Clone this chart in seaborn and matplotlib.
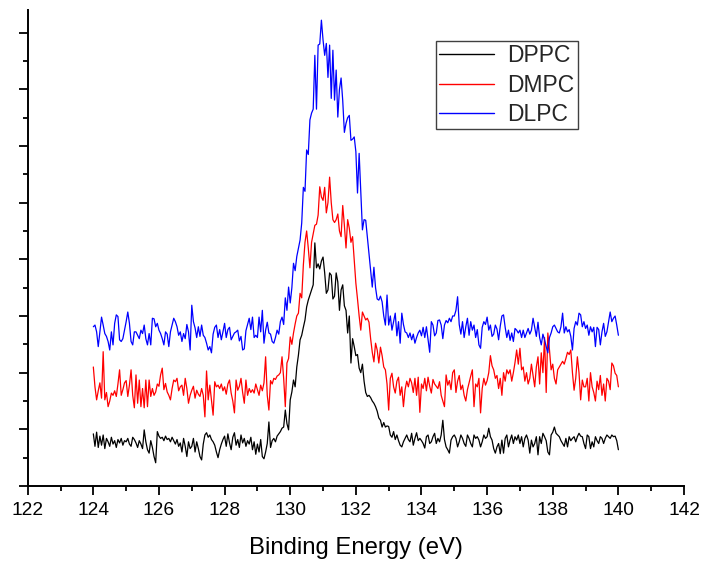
"""XPS spectrum of three phosphatidylcholine films, stacked with a vertical offset."""

import matplotlib

matplotlib.use("Agg")
import matplotlib.pyplot as plt
import numpy as np
import pandas as pd
import seaborn as sns
from matplotlib.ticker import MultipleLocator

# Binding energy grid of the scans (eV), 0.05 eV steps from 124 to 140.
energy = np.round(np.arange(124.0, 140.0001, 0.05), 2)

# Intensities (arbitrary units, offset per sample), one row per eV.
dppc = [
    92, 70, 95, 68, 88, 72, 90, 66, 84, 78, 70, 86, 74, 80, 68, 82, 76, 84, 72, 80,
    78, 84, 74, 70, 86, 82, 76, 68, 80, 74, 66, 99, 78, 64, 58, 80, 68, 52, 41, 96,
    88, 84, 86, 80, 88, 82, 84, 78, 86, 80, 74, 82, 70, 76, 60, 84, 70, 52, 78, 66,
    70, 84, 60, 78, 66, 52, 46, 74, 90, 94, 86, 90, 82, 78, 72, 60, 50, 64, 74, 82,
    88, 70, 92, 76, 64, 86, 94, 72, 82, 68, 90, 76, 84, 70, 80, 74, 86, 64, 78, 56,
    74, 60, 82, 52, 48, 60, 75, 113, 68, 80, 84, 78, 88, 92, 96, 102, 104, 134, 110, 99,
    152, 166, 187, 175, 210, 231, 258, 266, 280, 293, 316, 328, 337, 346, 355, 429, 385, 392, 383, 397,
    404, 376, 340, 346, 376, 372, 330, 335, 376, 360, 310, 346, 355, 318, 310, 270, 300, 217, 260, 246,
    230, 232, 208, 200, 215, 185, 165, 158, 160, 156, 150, 146, 140, 132, 120, 116, 104, 112, 104, 106,
    105, 90, 86, 96, 82, 90, 80, 72, 69, 78, 84, 90, 82, 78, 93, 72, 84, 94, 80, 84,
    80, 75, 67, 87, 90, 75, 78, 87, 93, 75, 84, 78, 90, 116, 82, 69, 64, 58, 81, 87,
    90, 84, 69, 78, 90, 84, 75, 70, 90, 84, 75, 69, 90, 84, 87, 81, 69, 78, 90, 84,
    87, 102, 87, 81, 66, 58, 69, 75, 57, 81, 58, 84, 90, 69, 81, 90, 75, 87, 81, 90,
    75, 87, 69, 84, 90, 81, 58, 81, 69, 75, 87, 55, 87, 75, 93, 87, 80, 60, 55, 90,
    95, 104, 93, 90, 87, 80, 75, 70, 84, 69, 87, 80, 84, 87, 78, 87, 93, 88, 87, 75,
    66, 90, 87, 66, 78, 69, 87, 80, 75, 87, 84, 75, 84, 90, 87, 84, 90, 87, 88, 80, 64,
]
dmpc = [
    210, 175, 152, 168, 182, 155, 237, 152, 165, 140, 150, 164, 160, 168, 158, 180, 205, 160, 170, 182,
    186, 158, 178, 205, 160, 138, 196, 146, 187, 140, 172, 138, 187, 140, 187, 158, 172, 160, 166, 180,
    176, 196, 208, 170, 181, 166, 160, 152, 172, 187, 184, 190, 168, 175, 178, 160, 190, 172, 146, 160,
    169, 176, 155, 169, 162, 158, 172, 160, 122, 203, 152, 178, 152, 125, 184, 175, 178, 172, 180, 168,
    175, 162, 180, 187, 164, 150, 129, 187, 169, 176, 190, 165, 146, 187, 160, 172, 165, 170, 164, 180,
    170, 160, 178, 168, 182, 228, 160, 134, 186, 180, 190, 188, 194, 196, 200, 228, 190, 140, 217, 225,
    263, 250, 270, 286, 300, 305, 340, 332, 390, 430, 450, 420, 385, 430, 445, 460, 462, 478, 528, 510,
    504, 527, 482, 500, 545, 500, 470, 465, 470, 480, 450, 440, 495, 460, 420, 470, 455, 430, 440, 400,
    358, 330, 300, 275, 307, 300, 293, 296, 289, 260, 236, 219, 252, 240, 217, 245, 230, 210, 205, 180,
    134, 190, 199, 175, 164, 185, 192, 160, 175, 140, 170, 185, 175, 190, 182, 165, 190, 160, 192, 130,
    180, 172, 190, 168, 192, 176, 164, 188, 180, 176, 172, 184, 160, 150, 140, 196, 178, 186, 170, 200,
    205, 165, 185, 195, 170, 178, 160, 150, 170, 182, 194, 205, 140, 180, 175, 190, 129, 172, 190, 178,
    186, 200, 230, 212, 205, 190, 195, 172, 190, 160, 200, 185, 205, 198, 205, 185, 200, 218, 240, 215,
    243, 205, 210, 185, 200, 180, 190, 215, 195, 175, 210, 228, 180, 235, 200, 262, 165, 270, 240, 205,
    215, 190, 180, 205, 210, 215, 220, 215, 225, 236, 232, 240, 200, 169, 190, 228, 200, 152, 187, 175,
    175, 190, 150, 200, 175, 165, 150, 185, 170, 195, 160, 180, 150, 190, 185, 170, 217, 212, 199, 195, 175,
]
dlpc = [
    281, 284, 272, 246, 272, 298, 284, 269, 264, 255, 240, 272, 249, 287, 302, 299, 258, 255, 260, 275,
    290, 307, 287, 255, 249, 272, 272, 266, 260, 275, 269, 284, 260, 249, 269, 249, 296, 295, 281, 287,
    275, 269, 260, 249, 272, 268, 246, 272, 284, 296, 290, 281, 266, 272, 255, 269, 260, 285, 272, 240,
    319, 290, 279, 262, 281, 264, 284, 266, 262, 252, 240, 246, 235, 268, 280, 284, 262, 276, 258, 272,
    287, 262, 276, 280, 258, 264, 270, 272, 275, 256, 264, 240, 242, 274, 285, 296, 276, 298, 262, 266,
    262, 298, 272, 310, 252, 275, 289, 270, 268, 255, 252, 262, 275, 268, 290, 298, 285, 332, 310, 351,
    323, 350, 393, 380, 405, 420, 434, 464, 527, 520, 593, 585, 646, 658, 665, 760, 665, 778, 780, 822,
    787, 760, 781, 721, 778, 684, 769, 681, 734, 651, 700, 720, 680, 624, 640, 650, 654, 610, 612, 616,
    590, 517, 587, 520, 452, 470, 469, 440, 410, 380, 351, 386, 350, 330, 328, 335, 325, 300, 284, 337,
    284, 300, 275, 290, 305, 265, 290, 252, 305, 285, 272, 270, 262, 270, 258, 268, 252, 262, 270, 275,
    265, 280, 262, 281, 258, 236, 290, 284, 265, 270, 292, 293, 284, 260, 284, 292, 288, 296, 290, 300,
    300, 310, 334, 285, 268, 290, 262, 281, 296, 266, 290, 275, 284, 262, 276, 249, 243, 280, 290, 285,
    298, 275, 284, 264, 268, 284, 277, 258, 282, 300, 302, 280, 262, 275, 257, 270, 255, 278, 275, 270,
    275, 262, 275, 262, 270, 278, 268, 275, 296, 280, 264, 289, 262, 249, 268, 258, 246, 235, 262, 270,
    281, 284, 278, 272, 270, 281, 305, 270, 281, 272, 276, 264, 240, 278, 290, 284, 305, 302, 281, 290,
    278, 284, 266, 281, 272, 280, 246, 280, 276, 249, 272, 287, 264, 272, 290, 307, 290, 296, 300, 284, 266,
]

samples = ["DPPC", "DMPC", "DLPC"]
colors = {"DPPC": "#000000", "DMPC": "#ff0000", "DLPC": "#0000ff"}

df = pd.concat(
    [
        pd.DataFrame({"energy": energy, "intensity": vals, "sample": name})
        for name, vals in zip(samples, [dppc, dmpc, dlpc])
    ],
    ignore_index=True,
)

sns.set_theme(style="ticks")
plt.rcParams["font.family"] = ["Liberation Sans", "DejaVu Sans"]

fig = plt.figure(figsize=(7.03, 5.61), dpi=100)
ax = fig.add_axes([0.0394, 0.1337, 0.9336, 0.8485])

sns.lineplot(
    data=df, x="energy", y="intensity", hue="sample", hue_order=samples,
    palette=colors, estimator=None, sort=False, lw=0.9, ax=ax,
)

ax.set_xlim(122, 142)
ax.set_ylim(0, 840)
ax.xaxis.set_major_locator(MultipleLocator(2))
ax.xaxis.set_minor_locator(MultipleLocator(1))
ax.yaxis.set_major_locator(MultipleLocator(100))
ax.yaxis.set_minor_locator(MultipleLocator(50))
ax.set_yticklabels([])

for side in ("top", "right"):
    ax.spines[side].set_visible(False)
for side in ("left", "bottom"):
    ax.spines[side].set_linewidth(1.4)
    ax.spines[side].set_color("black")

ax.tick_params(which="major", direction="out", length=6.5, width=1.3, color="black")
ax.tick_params(which="minor", direction="out", length=3.3, width=1.3, color="black")
ax.tick_params(axis="x", which="major", labelsize=13.8, pad=5, labelcolor="black")

ax.set_xlabel("Binding Energy (eV)", fontsize=17.2, labelpad=13, color="black")
ax.set_ylabel("")

leg = ax.legend(
    loc="upper left", bbox_to_anchor=(0.622, 0.935), borderaxespad=0,
    fontsize=16.5, handlelength=2.4, labelspacing=0.27, handletextpad=0.55,
    borderpad=0.15, frameon=True, fancybox=False, framealpha=1,
)
leg.get_frame().set_edgecolor("#404040")
leg.get_frame().set_linewidth(1.0)
for line in leg.get_lines():
    line.set_linewidth(1.0)

fig.savefig("out.png", dpi=100)
